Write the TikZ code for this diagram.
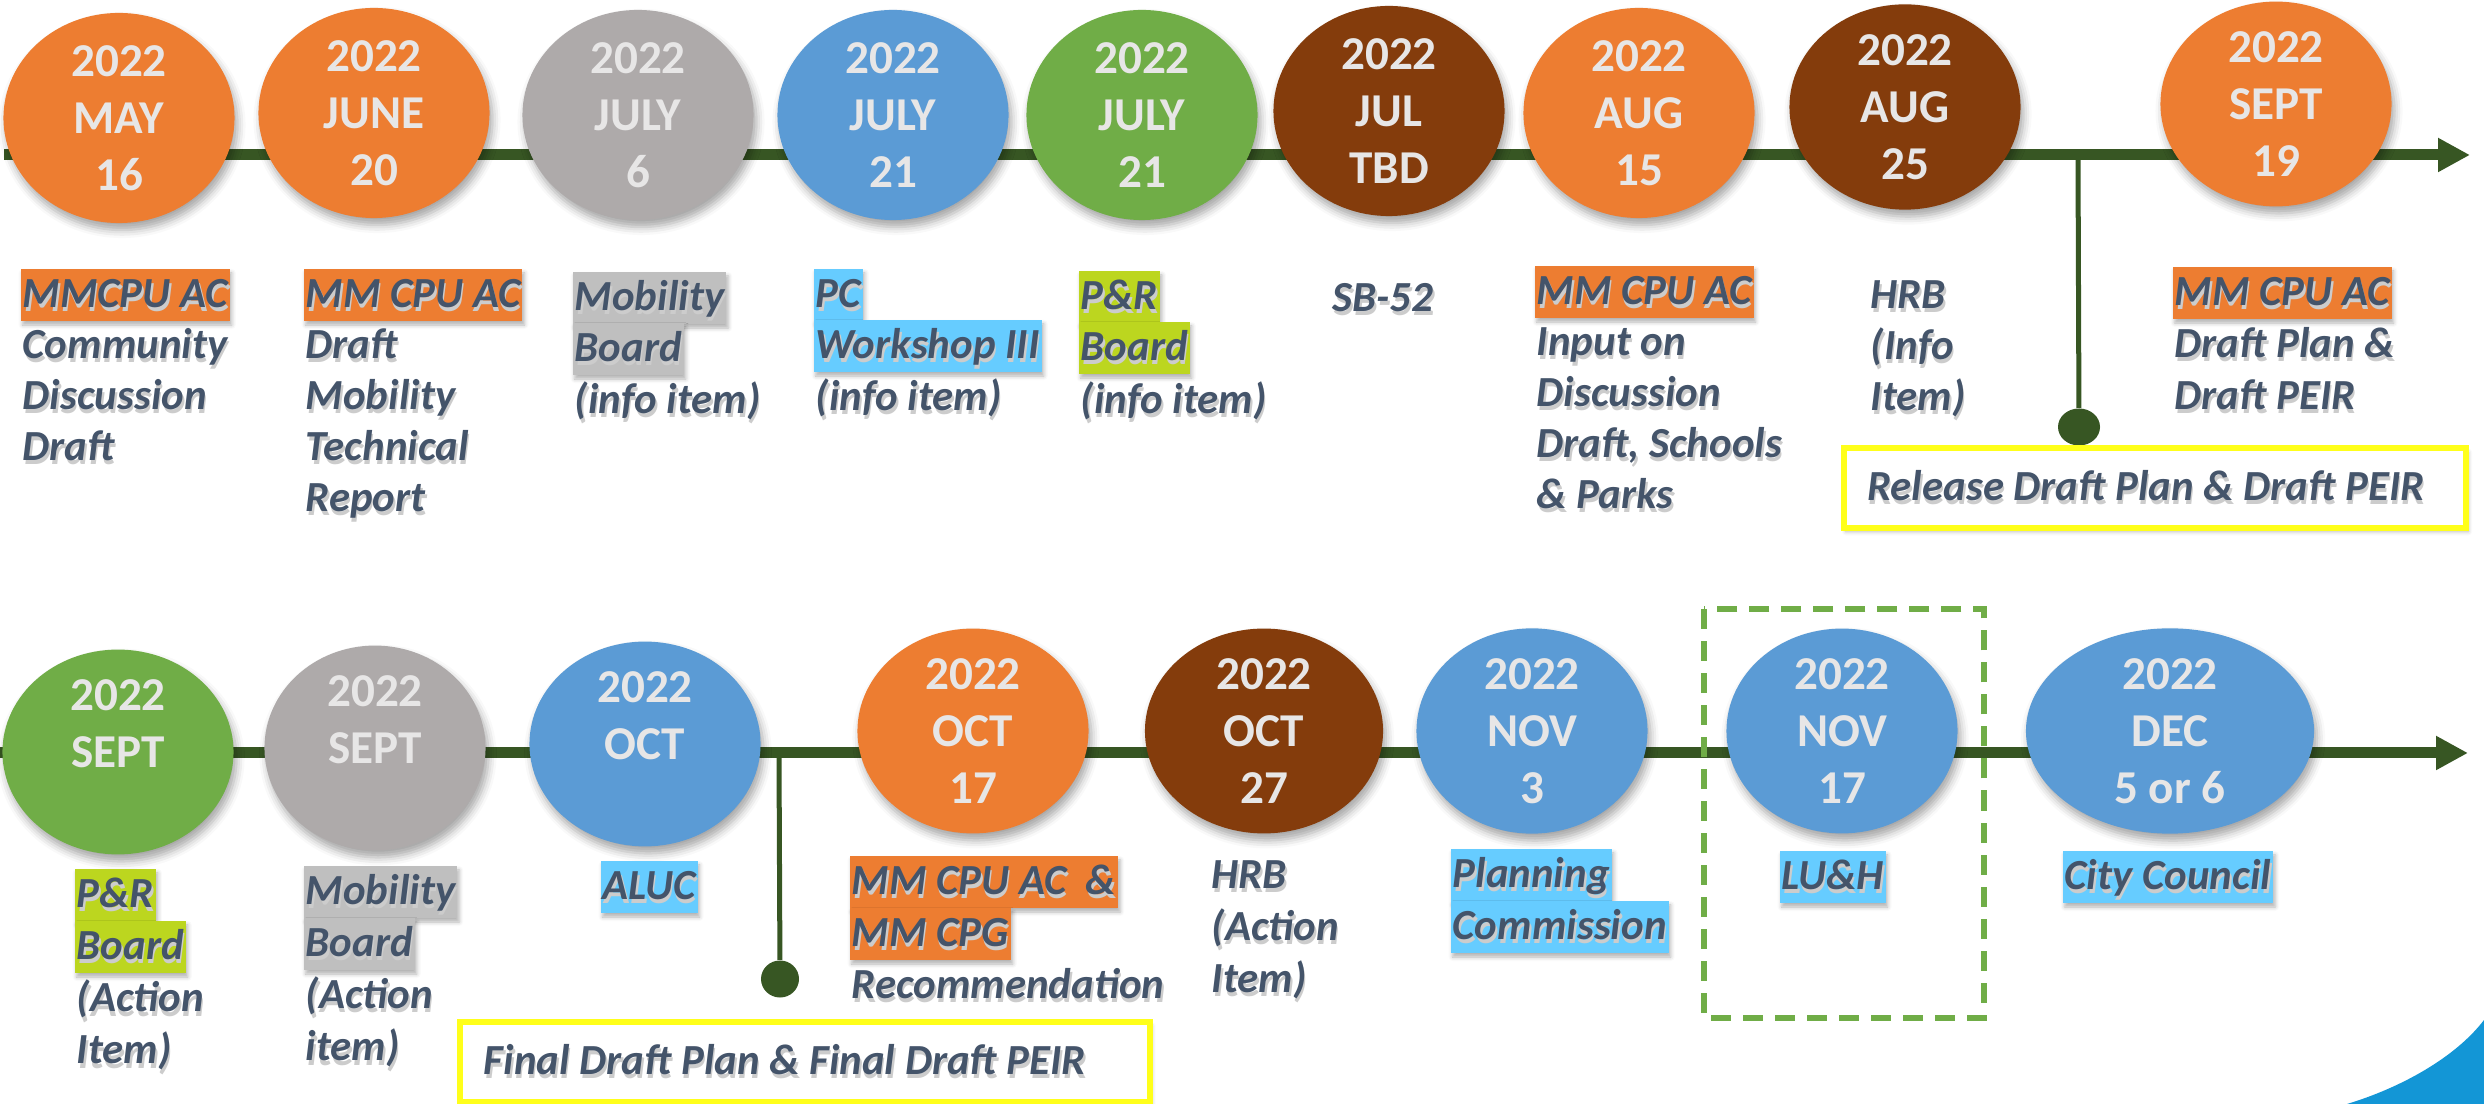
\documentclass[tikz,border=0pt]{standalone}
\usepackage{fontspec}
\setmainfont{Carlito}
\usepackage{tikz}
\usetikzlibrary{shapes,arrows.meta,shadows.blur}

\definecolor{evorange}{HTML}{ED7D31}
\definecolor{evgray}{HTML}{AEAAAA}
\definecolor{evblue}{HTML}{5B9BD5}
\definecolor{evgreen}{HTML}{70AD47}
\definecolor{evbrown}{HTML}{843C0C}
\definecolor{lineGreen}{HTML}{375623}
\definecolor{dateText}{HTML}{E7E6E6}
\definecolor{lblText}{HTML}{44546A}
\definecolor{hlGray}{HTML}{BFBFBF}
\definecolor{hlBlue}{HTML}{66CCFF}
\definecolor{hlLime}{HTML}{BCD61F}
\definecolor{boxYellow}{HTML}{FFFF1A}
\definecolor{cornerBlue}{HTML}{1396D6}

\newcommand{\datefont}{\fontsize{13.4}{16.2}\selectfont\bfseries}
\newcommand{\lblfont}{\fontsize{12.2}{14.5}\selectfont\bfseries\itshape}
%soft grey copy of a label, set under the text
\newcommand{\sh}[1]{\rlap{\kern0.015cm\raisebox{-0.04cm}{\textcolor{black!20}{#1}}}#1}

\tikzset{
  datecirc/.style={ellipse, fill=#1, text=dateText, font=\datefont, align=center,
    inner sep=0pt, minimum width=2.31cm, minimum height=2.10cm,
    blur shadow={shadow xshift=0.03cm, shadow yshift=-0.07cm, shadow blur radius=0.08cm, shadow opacity=35}},
  hl/.style={fill=#1, text=lblText, font=\lblfont, anchor=base west,
    inner xsep=0.02cm, inner ysep=0.06cm, text height=0.33cm, text depth=0.07cm,
    blur shadow={shadow xshift=0.02cm, shadow yshift=-0.04cm, shadow blur radius=0.04cm, shadow opacity=30}},
  lbl/.style={text=lblText, font=\lblfont, anchor=base west, inner xsep=0.02cm, inner ysep=0pt},
  timeline/.style={lineGreen, line width=0.11cm, -{Triangle[length=0.32cm,width=0.32cm]}},
  dot/.style={ellipse, fill=lineGreen, inner sep=0pt, minimum width=0.42cm, minimum height=0.37cm},
  notebox/.style={draw=boxYellow, line width=0.06cm, fill=white, text=lblText, font=\lblfont,
    inner sep=0pt, blur shadow={shadow xshift=0.02cm, shadow yshift=-0.04cm, shadow blur radius=0.04cm, shadow opacity=30}}
}

\begin{document}
\begin{tikzpicture}[x=0.01cm,y=-0.01cm]
	\useasboundingbox (0,0) rectangle (2484,1104);

	%Corner swoosh
	\fill[cornerBlue] (2347,1104) .. controls (2400,1088) and (2455,1058) .. (2484,1020) -- (2484,1104) -- cycle;

	%Both timelines
	\coordinate (top0) at (4,155);
	\coordinate (top1) at (2470,155);
	\coordinate (bot0) at (0,753);
	\coordinate (bot1) at (2468,753);
	\draw[timeline] (top0) -- (top1);
	\draw[timeline] (bot0) -- (bot1);

	%Release markers
	\coordinate (relTop) at (2078,155);
	\node[dot] (relDot) at (2079,427) {};
	\draw[lineGreen, line width=0.05cm] (relTop) -- (relDot);
	\node[notebox, minimum width=6.22cm, minimum height=0.79cm] (relBox) at (2155,488) {\sh{Release Draft Plan \& Draft PEIR}\kern0.18cm};

	\coordinate (finTop) at (779,753);
	\node[dot, minimum width=0.38cm] (finDot) at (780,979) {};
	\draw[lineGreen, line width=0.05cm] (finTop) -- (finDot);
	\node[notebox, minimum width=6.89cm, minimum height=0.80cm] (finBox) at (805,1062) {\sh{Final Draft Plan \& Final Draft PEIR}\kern0.4cm};

	%Upper row of dates
	\node[datecirc=evorange] (may16) at (119,118) {2022\\MAY\\16};
	\node[datecirc=evorange] (jun20) at (374,113) {2022\\JUNE\\20};
	\node[datecirc=evgray] (jul6) at (638,115) {2022\\JULY\\6};
	\node[datecirc=evblue] (jul21a) at (893,115) {2022\\JULY\\21};
	\node[datecirc=evgreen] (jul21b) at (1142,115) {2022\\JULY\\21};
	\node[datecirc=evbrown] (julTBD) at (1389,111) {2022\\JUL\\TBD};
	\node[datecirc=evorange] (aug15) at (1639,113) {2022\\AUG\\15};
	\node[datecirc=evbrown, minimum height=2.01cm] (aug25) at (1905,107) {2022\\AUG\\25};
	\node[datecirc=evorange, minimum height=2.00cm] (sep19) at (2276,104) {2022\\SEPT\\19};

	%Lower row of dates
	\node[datecirc=evgreen, minimum height=2.01cm] (sepA) at (118,752) {2022\\SEPT\\~};
	\node[datecirc=evgray, minimum width=2.21cm, minimum height=2.02cm] (sepB) at (375,748) {2022\\SEPT\\~};
	\node[datecirc=evblue, minimum height=2.02cm] (octA) at (645,744) {2022\\OCT\\~};
	\node[datecirc=evorange, minimum height=2.01cm] (oct17) at (973,731) {2022\\OCT\\17};
	\node[datecirc=evbrown, minimum width=2.38cm, minimum height=2.01cm] (oct27) at (1264,731) {2022\\OCT\\27};
	\node[datecirc=evblue, minimum height=2.01cm] (nov3) at (1532,731) {2022\\NOV\\3};
	\node[datecirc=evblue, minimum height=2.01cm] (nov17) at (1842,731) {2022\\NOV\\17};
	\node[datecirc=evblue, minimum width=2.88cm, minimum height=2.01cm] (dec5) at (2170,731) {2022\\DEC\\5 or 6};

	%LU&H frame
	\draw[evgreen, line width=0.06cm, dash pattern=on 0.2cm off 0.12cm] (1704,609) rectangle (1984,1018);

	%Upper row of labels
	\node[hl=evorange] (may16L) at (20,308) {\sh{MMCPU AC}};
	\foreach \t [count=\i] in {Community,Discussion,Draft}
		\node[lbl] (may16L-\i) at (20,308+51*\i) {\sh{\t}};

	\node[hl=evorange] (jun20L) at (303,308) {\sh{MM CPU AC}};
	\foreach \t [count=\i] in {Draft,Mobility,Technical,Report}
		\node[lbl] (jun20L-\i) at (303,308+51*\i) {\sh{\t}};

	\node[hl=hlGray] (jul6L) at (572,311) {\sh{Mobility}};
	\node[hl=hlGray] (jul6L-1) at (572,362) {\sh{Board}};
	\node[lbl] (jul6L-2) at (572,414) {\sh{(info item)}};

	\node[hl=hlBlue] (jul21aL) at (813,308) {\sh{PC}};
	\node[hl=hlBlue] (jul21aL-1) at (813,359) {\sh{Workshop III}};
	\node[lbl] (jul21aL-2) at (813,411) {\sh{(info item)}};

	\node[hl=hlLime] (jul21bL) at (1078,310) {\sh{P\&R}};
	\node[hl=hlLime] (jul21bL-1) at (1078,361) {\sh{Board}};
	\node[lbl] (jul21bL-2) at (1078,414) {\sh{(info item)}};

	\node[lbl] (julTBDL) at (1330,312) {\sh{SB-52}};

	\node[hl=evorange] (aug15L) at (1534,305) {\sh{MM CPU AC}};
	\foreach \t [count=\i] in {Input on,Discussion,{Draft, Schools},\& Parks}
		\node[lbl] (aug15L-\i) at (1534,305+51*\i) {\sh{\t}};

	\foreach \t [count=\i] in {HRB,{(Info},{Item)}}
		\node[lbl] (aug25L-\i) at (1868,258+51*\i) {\sh{\t}};

	\node[hl=evorange] (sep19L) at (2172,306) {\sh{MM CPU AC}};
	\foreach \t [count=\i] in {Draft Plan \&,Draft PEIR}
		\node[lbl] (sep19L-\i) at (2172,306+52*\i) {\sh{\t}};

	%Lower row of labels
	\node[hl=hlLime] (sepAL) at (74,908) {\sh{P\&R}};
	\node[hl=hlLime] (sepAL-1) at (74,960) {\sh{Board}};
	\node[lbl] (sepAL-2) at (74,1012) {\sh{(Action}};
	\node[lbl] (sepAL-3) at (74,1064) {\sh{Item)}};

	\node[hl=hlGray] (sepBL) at (303,905) {\sh{Mobility}};
	\node[hl=hlGray] (sepBL-1) at (303,957) {\sh{Board}};
	\node[lbl] (sepBL-2) at (303,1009) {\sh{(Action}};
	\node[lbl] (sepBL-3) at (303,1061) {\sh{item)}};

	\node[hl=hlBlue] (octAL) at (600,900) {\sh{ALUC}};

	\node[hl=evorange] (oct17L) at (849,895) {\sh{MM CPU AC \ \&}};
	\node[hl=evorange] (oct17L-1) at (849,947) {\sh{MM CPG}};
	\node[lbl] (oct17L-2) at (849,999) {\sh{Recommendation}};

	\foreach \t [count=\i] in {HRB,{(Action},{Item)}}
		\node[lbl] (oct27L-\i) at (1209,837+52*\i) {\sh{\t}};

	\node[hl=hlBlue] (nov3L) at (1450,888) {\sh{Planning}};
	\node[hl=hlBlue] (nov3L-1) at (1450,940) {\sh{Commission}};

	\node[hl=hlBlue] (nov17L) at (1779,890) {\sh{LU\&H}};

	\node[hl=hlBlue] (dec5L) at (2062,890) {\sh{City Council}};

\end{tikzpicture}
\end{document}
